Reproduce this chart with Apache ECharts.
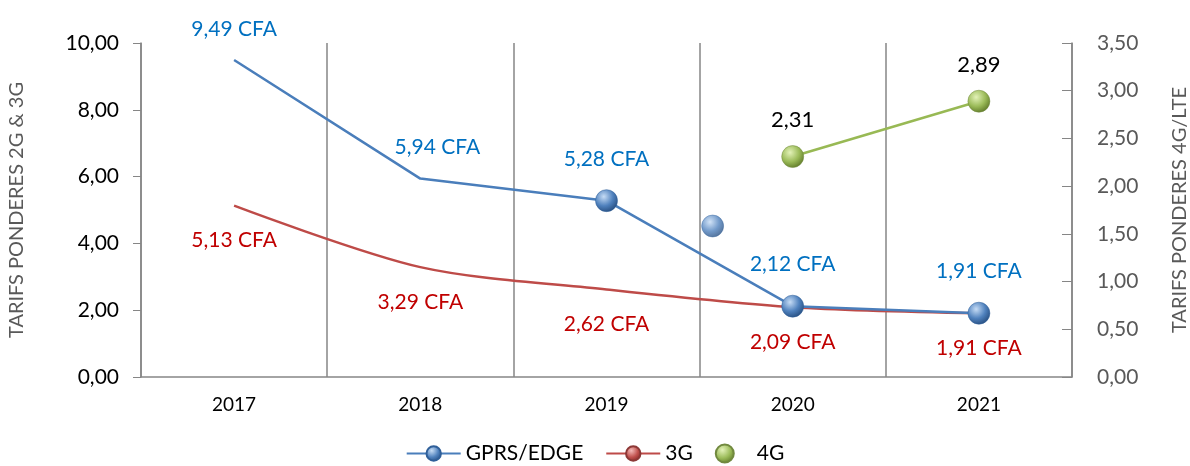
<!DOCTYPE html>
<html>
<head>
<meta charset="utf-8">
<script src="https://cdn.jsdelivr.net/npm/echarts@6/dist/echarts.min.js"></script>
<style>
  html, body { margin: 0; padding: 0; background: #fff; }
  #chart { width: 1190px; height: 466px; }
</style>
</head>
<body>
<div id="chart"></div>
<script>
  var years = ['2017', '2018', '2019', '2020', '2021'];
  var gprs = [9.49, 5.94, 5.28, 2.12, 1.91];
  var gprsMarked = [false, false, true, true, true];
  var g3 = [5.13, 3.29, 2.62, 2.09, 1.91];
  var g4 = [null, null, null, 2.31, 2.89];
  // lone sphere drawn between 2019 and 2020 (category position, value)
  var stray = [[2.57, 4.52]];

  function sphere(light, mid, dark) {
    return new echarts.graphic.RadialGradient(0.38, 0.32, 0.75, [
      { offset: 0, color: light },
      { offset: 0.55, color: mid },
      { offset: 1, color: dark }
    ]);
  }
  var blueBall = sphere('#c6dcf5', '#4f81bd', '#23497a');
  var redBall = sphere('#f3b9b7', '#c0504d', '#7a2321');
  var greenBall = sphere('#e3f2b8', '#9bbb59', '#5a7424');

  function cfa(v) { return v.toFixed(2).replace('.', ',') + ' CFA'; }
  function comma(v) { return v.toFixed(2).replace('.', ','); }
  var font = 'Lato, "Open Sans", sans-serif';
  var hidden = { symbolSize: 1, itemStyle: { color: 'rgba(0,0,0,0)', borderWidth: 0 } };

  var chartDom = document.getElementById('chart');
  var myChart = echarts.init(chartDom);
  var option = {
    animation: false,
    textStyle: { fontFamily: font },
    grid: { left: 141, right: 118, top: 43, bottom: 89, containLabel: false, outerBoundsMode: 'none' },
    legend: {
      bottom: -3,
      left: 'center',
      itemWidth: 54,
      itemHeight: 18,
      itemGap: 22,
      textStyle: { fontSize: 21, color: '#000', fontFamily: font },
      data: [
        { name: 'GPRS/EDGE' },
        { name: '3G' },
        { name: '4G', icon: 'circle', itemStyle: { color: greenBall } }
      ]
    },
    xAxis: [
      {
        type: 'category',
        data: years,
        boundaryGap: true,
        axisLine: { onZero: false, lineStyle: { color: '#868686', width: 1.5 } },
        axisTick: { show: false },
        axisLabel: { color: '#000', fontSize: 19, margin: 18, fontFamily: font },
        splitLine: { show: true, lineStyle: { color: '#868686', width: 1.5 } }
      },
      {
        type: 'value',
        min: -0.5,
        max: 4.5,
        show: false
      }
    ],
    yAxis: [
      {
        type: 'value',
        min: 0,
        max: 10,
        interval: 2,
        name: 'TARIFS PONDERES 2G & 3G',
        nameLocation: 'middle',
        nameRotate: 90,
        nameGap: 114,
        nameTextStyle: { color: '#595959', fontSize: 20, fontFamily: font },
        axisLine: { show: true, onZero: false, lineStyle: { color: '#868686', width: 1.5 } },
        axisTick: { show: true, length: 8, lineStyle: { color: '#868686' } },
        axisLabel: {
          color: '#000', fontSize: 21, margin: 22, fontFamily: font,
          formatter: comma
        },
        splitLine: { show: false }
      },
      {
        type: 'value',
        min: 0,
        max: 3.5,
        interval: 0.5,
        name: 'TARIFS PONDERES 4G/LTE',
        nameLocation: 'middle',
        nameRotate: 90,
        nameGap: 98,
        nameTextStyle: { color: '#595959', fontSize: 20, fontFamily: font },
        axisLine: { show: true, onZero: false, lineStyle: { color: '#868686', width: 1.5 } },
        axisTick: { show: true, inside: true, length: 10, lineStyle: { color: '#868686' } },
        axisLabel: {
          color: '#595959', fontSize: 21, margin: 25, fontFamily: font,
          formatter: comma
        },
        splitLine: { show: false }
      }
    ],
    series: [
      {
        name: 'GPRS/EDGE',
        type: 'line',
        yAxisIndex: 0,
        symbol: 'circle',
        symbolSize: 22,
        lineStyle: { color: '#4a7ebb', width: 2.5 },
        itemStyle: { color: blueBall, borderColor: '#2f5f99', borderWidth: 0.5 },
        label: {
          show: true,
          position: 'top',
          distance: 20,
          color: '#0070c0',
          fontSize: 21,
          fontFamily: font,
          formatter: function (p) { return cfa(p.value); }
        },
        data: gprs.map(function (v, i) {
          var item = gprsMarked[i] ? { value: v } : Object.assign({ value: v }, hidden);
          if (i === 1) item.label = { offset: [17, 0] };
          return item;
        }),
        z: 4
      },
      {
        name: '3G',
        type: 'line',
        yAxisIndex: 0,
        smooth: 0.3,
        symbol: 'circle',
        symbolSize: 22,
        lineStyle: { color: '#be4b48', width: 2.5 },
        itemStyle: { color: redBall, borderColor: '#8c3836', borderWidth: 0.5 },
        label: {
          show: true,
          position: 'bottom',
          distance: 24,
          color: '#c00000',
          fontSize: 21,
          fontFamily: font,
          formatter: function (p) { return cfa(p.value); }
        },
        data: g3.map(function (v) { return Object.assign({ value: v }, hidden); }),
        z: 3
      },
      {
        name: '4G',
        type: 'line',
        yAxisIndex: 1,
        symbol: 'circle',
        symbolSize: 22,
        lineStyle: { color: '#98b954', width: 2.5 },
        itemStyle: { color: greenBall, borderColor: '#71893f', borderWidth: 0.5 },
        label: {
          show: true,
          position: 'top',
          distance: 14,
          color: '#000',
          fontSize: 22,
          fontFamily: font,
          formatter: function (p) { return comma(p.value); }
        },
        data: g4,
        z: 4
      },
      {
        name: 'stray',
        type: 'scatter',
        xAxisIndex: 1,
        yAxisIndex: 0,
        symbol: 'circle',
        symbolSize: 22,
        itemStyle: { color: blueBall, borderColor: '#2f5f99', borderWidth: 0.5 },
        data: stray,
        z: 4
      }
    ]
  };

  option && myChart.setOption(option);
</script>
</body>
</html>
